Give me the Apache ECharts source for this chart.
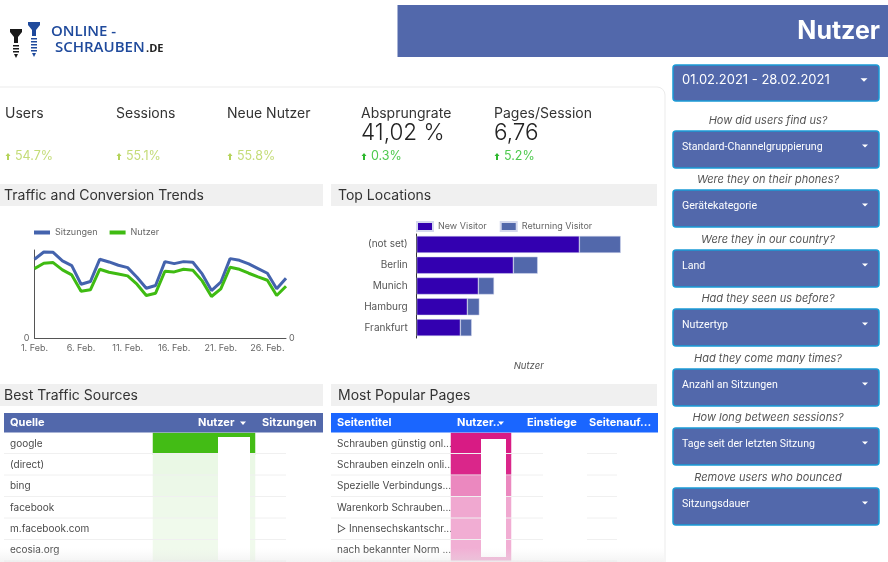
<!DOCTYPE html>
<html>
<head>
<meta charset="utf-8">
<title>Nutzer</title>
<script src="https://cdn.jsdelivr.net/npm/echarts@6/dist/echarts.min.js"></script>
<style>
html, body { margin: 0; padding: 0; background: #fff; }
#main { width: 888px; height: 562px; }
</style>
</head>
<body>
<div id="main"></div>
<script>
// data
var days = ['1. Feb.','2. Feb.','3. Feb.','4. Feb.','5. Feb.','6. Feb.','7. Feb.','8. Feb.','9. Feb.','10. Feb.','11. Feb.','12. Feb.','13. Feb.','14. Feb.','15. Feb.','16. Feb.','17. Feb.','18. Feb.','19. Feb.','20. Feb.','21. Feb.','22. Feb.','23. Feb.','24. Feb.','25. Feb.','26. Feb.','27. Feb.','28. Feb.'];
var sitzungen = [237,259,258,232,218,162,170,237,229,219,212,183,150,158,230,224,230,228,193,143,168,239,234,223,209,195,148,180];
var nutzer = [209,225,227,205,190,141,145,207,198,193,187,162,128,135,201,199,207,204,172,125,148,213,207,195,184,174,128,156];

var cities = ['(not set)','Berlin','Munich','Hamburg','Frankfurt'];
var newVisitor = [488,290,185,152,131];
var returningVisitor = [124,73,47,36,34];

var sources = ['google','(direct)','bing','facebook','m.facebook.com','ecosia.org'];
var sourceUsers = [100,11,10,9,8,8];
var pages = ['Schrauben günstig onl...','Schrauben einzeln onli...','Spezielle Verbindungs...','Warenkorb Schrauben...','▷ Innensechskantschr...','nach bekannter Norm ...'];
var pageUsers = [100,95,52,38,36,35];

var kpiNames = ['Users','Sessions','Neue Nutzer','Absprungrate','Pages/Session'];
var kpiValues = ['','','','41,02 %','6,76'];
var kpiDeltas = ['54.7%','55.1%','55.8%','0.3%','5.2%'];
var kpiX = [5,116,227,361,494];

var filterQuestions = ['How did users find us?','Were they on their phones?','Were they in our country?','Had they seen us before?','Had they come many times?','How long between sessions?','Remove users who bounced'];
var filterLabels = ['Standard-Channelgruppierung','Gerätekategorie','Land','Nutzertyp','Anzahl an Sitzungen','Tage seit der letzten Sitzung','Sitzungsdauer'];

var FONT = 'Inter';
var BLUE = '#5268ab';
var graphics = [];

function txt(x, y, s, size, color, opt) {
    opt = opt || {};
    graphics.push({
        type: 'text', x: x, y: y + 1, z: opt.z || 100, silent: true,
        style: {
            text: s, fontSize: size, fill: color, fontFamily: opt.font || FONT,
            fontWeight: opt.weight || 'normal', fontStyle: opt.italic ? 'italic' : 'normal',
            textAlign: opt.align || 'left', textVerticalAlign: 'middle'
        }
    });
}
function box(x, y, w, h, fill, opt) {
    opt = opt || {};
    graphics.push({
        type: 'rect', z: opt.z || 100, silent: true,
        shape: { x: x, y: y, width: w, height: h, r: opt.r || 0 },
        style: { fill: fill, stroke: opt.stroke, lineWidth: opt.lineWidth || 0 }
    });
}
function poly(points, fill) {
    graphics.push({ type: 'polygon', z: 100, silent: true, shape: { points: points }, style: { fill: fill } });
}
function hline(x1, x2, y, color) {
    graphics.push({ type: 'line', z: 101, silent: true, shape: { x1: x1, y1: y, x2: x2, y2: y }, style: { stroke: color, lineWidth: 1 } });
}
function caret(x, y, size) {
    poly([[x - size, y - size / 2], [x + size, y - size / 2], [x, y + size / 2]], '#fff');
}
function screw(x, top, color, threads) {
    poly([[x - 6, top], [x + 6, top], [x + 6, top + 3], [x + 2, top + 8], [x + 2, top + 14], [x - 2, top + 14], [x - 2, top + 8], [x - 6, top + 3]], color);
    for (var i = 0; i < threads; i++) box(x - 3, top + 16 + i * 3, 6, 1.5, color);
    poly([[x - 2, top + 16 + threads * 3], [x + 2, top + 16 + threads * 3], [x, top + 20 + threads * 3]], color);
}

// logo
screw(16, 29, '#1a1a1a', 3);
screw(34, 22, '#1f4a9c', 5);
txt(51, 31, 'ONLINE -', 15, '#1f4a9c', { font: 'Open Sans', weight: 600 });
txt(55, 47, 'SCHRAUBEN', 15, '#1f4a9c', { font: 'Open Sans', weight: 600 });
txt(146, 48, '.DE', 11, '#222', { font: 'Open Sans', weight: 700 });

// header and card
box(397.5, 5, 491, 52, BLUE);
txt(880, 30, 'Nutzer', 25, '#fff', { weight: 700, align: 'right' });
box(-5, 87, 670, 490, 'transparent', { stroke: '#ebebeb', lineWidth: 1, r: [0, 8, 0, 0], z: 1 });

// KPI row
kpiNames.forEach(function (name, i) {
    var light = i < 3;
    var deltaColor = light ? '#c4dc78' : '#4ec94e';
    txt(kpiX[i], 113, name, 14, '#333');
    if (kpiValues[i]) txt(kpiX[i], 132, kpiValues[i], 22.5, '#222', { weight: 300 });
    poly([[kpiX[i] + 3, 153], [kpiX[i] + 5.5, 156], [kpiX[i] + 4, 156], [kpiX[i] + 4, 160], [kpiX[i] + 2, 160], [kpiX[i] + 2, 156], [kpiX[i] + 0.5, 156]], light ? '#b5d35a' : '#2eb82e');
    txt(kpiX[i] + 10, 155, kpiDeltas[i], 12.5, deltaColor);
});

// section headers
[[0, 184, 323, 'Traffic and Conversion Trends', 4], [331, 184, 326, 'Top Locations', 338],
 [0, 384, 323, 'Best Traffic Sources', 4], [331, 384, 326, 'Most Popular Pages', 338]].forEach(function (s) {
    box(s[0], s[1], s[2], 22, '#f0f0f0');
    txt(s[4], s[1] + 11, s[3], 14, '#333');
});

// table 1 chrome
box(4, 413, 319, 19.5, BLUE);
txt(10, 422, 'Quelle', 11, '#fff', { weight: 700 });
txt(198, 422, 'Nutzer', 11, '#fff', { weight: 700 });
poly([[240, 421.5], [246, 421.5], [243, 425]], '#fff');
txt(262, 422, 'Sitzungen', 11, '#fff', { weight: 700 });
// table 2 chrome
box(331, 413, 327, 19.5, '#1a66ff');
txt(337, 422, 'Seitentitel', 11, '#fff', { weight: 700 });
txt(457, 422, 'Nutzer..', 11, '#fff', { weight: 700 });
poly([[498, 421.5], [504, 421.5], [501, 425]], '#fff');
txt(527, 422, 'Einstiege', 11, '#fff', { weight: 700 });
txt(589, 422, 'Seitenauf...', 11, '#fff', { weight: 700 });

// row separators
[453.5, 475, 496.5, 518, 539.5, 561].forEach(function (y) {
    hline(4, 286, y, '#f0f0f0');
    hline(331, 617, y, '#f0f0f0');
});
// blanked-out number columns
box(218, 437, 32, 123, '#fff', { z: 102 });
box(286, 433, 40, 128, '#fff', { z: 102 });
box(481, 439, 25, 118, '#fff', { z: 102 });
box(543, 433, 44, 128, '#fff', { z: 102 });
box(617, 433, 42, 128, '#fff', { z: 102 });
graphics.push({
    type: 'rect', z: 103, silent: true,
    shape: { x: 0, y: 548, width: 664, height: 14 },
    style: { fill: new echarts.graphic.LinearGradient(0, 0, 0, 1, [{ offset: 0, color: 'rgba(235,235,235,0)' }, { offset: 1, color: 'rgba(225,225,225,0.4)' }]) }
});

// filter column
box(673, 65, 206, 36, BLUE, { stroke: '#1a9ad6', lineWidth: 1.5, r: 3 });
txt(682, 79, '01.02.2021 - 28.02.2021', 13, '#fff');
caret(864, 80, 3.5);
var filterTop = [131, 190, 250, 309, 369, 428, 488];
filterLabels.forEach(function (label, i) {
    txt(768, filterTop[i] - 11, filterQuestions[i], 11, '#555', { italic: true, align: 'center' });
    box(673, filterTop[i], 206, 37, BLUE, { stroke: '#1a9ad6', lineWidth: 1.5, r: 3 });
    txt(682, filterTop[i] + 15, label, 10.6, '#fff', { font: 'Roboto' });
    caret(865, filterTop[i] + 15, 3);
});

function hiddenCat(data, grid) {
    return { type: 'category', data: data, gridIndex: grid, axisLine: { show: false }, axisTick: { show: false }, axisLabel: { show: false }, splitLine: { show: false }, splitArea: { show: false } };
}
function rowAxis(data, grid, margin) {
    return {
        type: 'category', data: data, gridIndex: grid, inverse: true,
        axisLine: { show: false }, axisTick: { show: false }, splitArea: { show: false },
        axisLabel: { align: 'left', margin: margin, fontSize: 10, color: '#4a4a4a', fontFamily: FONT }
    };
}
function cells(values) {
    return values.map(function (v, i) { return [0, i, v]; });
}

var myChart = echarts.init(document.getElementById('main'));
myChart.setOption({
    animation: false,
    backgroundColor: '#fff',
    textStyle: { fontFamily: FONT },
    graphic: { elements: graphics },
    legend: [{
        data: ['Sitzungen', 'Nutzer'], left: 34, top: 228, padding: 0, itemWidth: 16, itemHeight: 4, itemGap: 12,
        icon: 'rect', textStyle: { fontSize: 9, color: '#666', fontFamily: FONT }
    }, {
        data: ['New Visitor', 'Returning Visitor'], left: 416, top: 221, padding: 0, itemWidth: 16, itemHeight: 9, itemGap: 13,
        icon: 'rect', textStyle: { fontSize: 9, color: '#666', fontFamily: FONT }
    }],
    grid: [
        { left: 34.5, top: 250, width: 251.5, height: 88 },
        { left: 416.7, top: 234, width: 224, height: 104 },
        { left: 153, top: 433, width: 102, height: 128 },
        { left: 451, top: 433, width: 60, height: 128 }
    ],
    xAxis: [
        {
            type: 'category', data: days, gridIndex: 0, boundaryGap: false,
            axisLine: { lineStyle: { color: '#555', width: 1 } }, axisTick: { show: false },
            axisLabel: { interval: 4, fontSize: 9, color: '#666', margin: 6, fontFamily: FONT }
        },
        {
            type: 'value', gridIndex: 1, min: 0, max: 672, name: 'Nutzer', nameLocation: 'middle', nameGap: 23,
            nameTextStyle: { fontStyle: 'italic', fontSize: 9.5, color: '#555', fontFamily: FONT },
            axisLine: { show: false }, axisTick: { show: false }, axisLabel: { show: false }, splitLine: { show: false }
        },
        hiddenCat(['Nutzer'], 2),
        hiddenCat(['Nutzer'], 3)
    ],
    yAxis: [
        {
            type: 'value', gridIndex: 0, min: 0, max: 265, interval: 265,
            axisLine: { show: true, lineStyle: { color: '#555', width: 1 } }, axisTick: { show: false }, splitLine: { show: false },
            axisLabel: { fontSize: 9, color: '#666', margin: 5, fontFamily: FONT, formatter: function (v) { return v === 0 ? '0' : ''; } }
        },
        {
            type: 'value', gridIndex: 0, position: 'right', min: 0, max: 265, interval: 265,
            axisLine: { show: false }, axisTick: { show: false }, splitLine: { show: false },
            axisLabel: { fontSize: 9, color: '#666', margin: 3, fontFamily: FONT, formatter: function (v) { return v === 0 ? '0' : ''; } }
        },
        {
            type: 'category', data: cities, gridIndex: 1, inverse: true,
            axisLine: { lineStyle: { color: '#333', width: 1 } }, axisTick: { show: false },
            axisLabel: { fontSize: 10, color: '#555', margin: 9, fontFamily: FONT }
        },
        rowAxis(sources, 2, 143),
        rowAxis(pages, 3, 114)
    ],
    visualMap: [
        { show: false, seriesIndex: 4, min: 0, max: 100, inRange: { color: ['#ffffff', '#43bc15'] } },
        { show: false, seriesIndex: 5, min: 0, max: 100, inRange: { color: ['#ffffff', '#d81b84'] } }
    ],
    series: [
        { name: 'Sitzungen', type: 'line', xAxisIndex: 0, yAxisIndex: 0, data: sitzungen, showSymbol: false, lineStyle: { color: '#4463ad', width: 3 }, itemStyle: { color: '#4463ad' } },
        { name: 'Nutzer', type: 'line', xAxisIndex: 0, yAxisIndex: 1, data: nutzer, showSymbol: false, lineStyle: { color: '#3fbb12', width: 3 }, itemStyle: { color: '#3fbb12' } },
        { name: 'New Visitor', type: 'bar', stack: 'v', xAxisIndex: 1, yAxisIndex: 2, data: newVisitor, barWidth: 17, itemStyle: { color: '#3300b0', borderColor: '#d5d9ee', borderWidth: 0.5 } },
        { name: 'Returning Visitor', type: 'bar', stack: 'v', xAxisIndex: 1, yAxisIndex: 2, data: returningVisitor, barWidth: 17, itemStyle: { color: BLUE, borderColor: '#d5d9ee', borderWidth: 0.5 } },
        { type: 'heatmap', xAxisIndex: 2, yAxisIndex: 3, data: cells(sourceUsers) },
        { type: 'heatmap', xAxisIndex: 3, yAxisIndex: 4, data: cells(pageUsers) }
    ]
});
</script>
</body>
</html>
